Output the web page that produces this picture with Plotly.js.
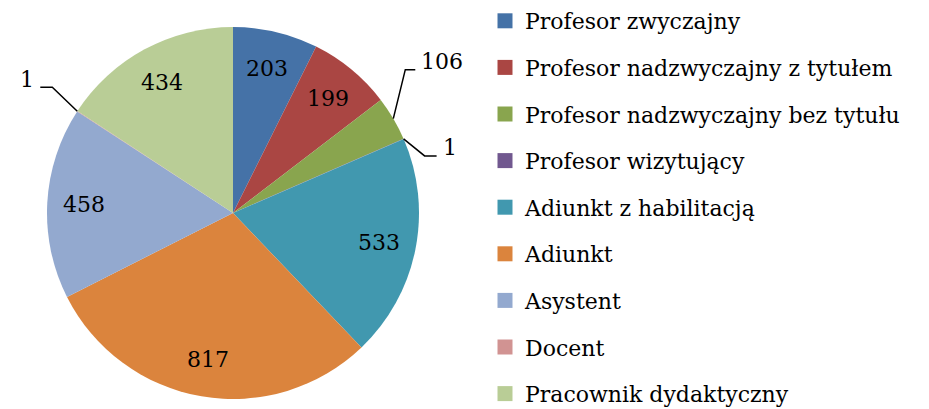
<!DOCTYPE html>
<html><head><meta charset="utf-8">
<script src="https://cdn.plot.ly/plotly-3.0.1.min.js"></script>
<style>html,body{margin:0;padding:0;background:#fff}</style>
</head><body>
<div id="chart" style="width:929px;height:409px"></div>
<script>
const categories = ["Profesor zwyczajny","Profesor nadzwyczajny z tytułem","Profesor nadzwyczajny bez tytułu","Profesor wizytujący","Adiunkt z habilitacją","Adiunkt","Asystent","Docent","Pracownik dydaktyczny"];
const values = [203,199,106,1,533,817,458,1,434];
const colors = ["#4572A7","#AA4643","#89A54E","#71588F","#4198AF","#DB843D","#93A9CF","#D19392","#B9CD96"];
const labelPlacement = ["inside","inside","outside","outside","inside","inside","inside","outside","inside"];
// leader-line styling for labels drawn outside: [elbow dx, elbow dy, end dx] in px
const leaderStyle = {2: [12, -49, 22], 3: [21, 17, 33], 7: [-25, -24, -37]};

const FONT = "DejaVu Serif, Liberation Serif, serif";
const W = 929, H = 409;
const CX = 233, CY = 213, R = 186;
const INNER = 0.8; // inside-label radius fraction

const pie = {
  type: "pie",
  labels: categories,
  values: values,
  sort: false,
  direction: "clockwise",
  rotation: 0,
  marker: {colors: colors, line: {width: 0}},
  textinfo: "none",
  showlegend: false,
  automargin: false,
  hoverinfo: "label+value",
  domain: {x: [(CX-R)/W, (CX+R)/W], y: [1-(CY+R)/H, 1-(CY-R)/H]}
};

const legendTraces = categories.map((c, i) => ({
  type: "scatter", mode: "markers", x: [null], y: [null],
  name: c, legendgroup: "g" + i,
  marker: {symbol: "square", size: 15, color: colors[i]},
  showlegend: true, hoverinfo: "skip"
}));

// data labels, positioned from the slice angles
const total = values.reduce((a, b) => a + b, 0);
const shapes = [], annotations = [];
const px = x => x / W, py = y => 1 - y / H;
let cum = 0;
values.forEach((v, i) => {
  const mid = (cum + v / 2) / total * 2 * Math.PI;
  cum += v;
  const s = Math.sin(mid), c = Math.cos(mid);
  if (labelPlacement[i] === "inside") {
    annotations.push({xref: "paper", yref: "paper",
      x: px(CX + INNER * R * s), y: py(CY - INNER * R * c),
      xanchor: "center", yanchor: "middle", showarrow: false,
      text: String(v), font: {family: FONT, size: 22, color: "#000"}});
    return;
  }
  const st = leaderStyle[i];
  const tx = CX + R * s, ty = CY - R * c;
  const ex = tx + st[0], ey = ty + st[1], fx = tx + st[2];
  shapes.push({type: "path", xref: "paper", yref: "paper",
    path: `M ${px(tx)} ${py(ty)} L ${px(ex)} ${py(ey)} L ${px(fx)} ${py(ey)}`,
    line: {color: "#000", width: 1.5}});
  const right = st[2] > 0;
  annotations.push({xref: "paper", yref: "paper", x: px(fx + (right ? 4 : -4)), y: py(ey - 8),
    xanchor: right ? "left" : "right", yanchor: "middle", showarrow: false,
    text: String(v), font: {family: FONT, size: 22, color: "#000"}});
});

const layout = {
  width: W, height: H,
  margin: {l: 0, r: 0, t: 0, b: 0},
  paper_bgcolor: "#fff", plot_bgcolor: "#fff",
  font: {family: FONT, size: 22, color: "#000"},
  xaxis: {visible: false}, yaxis: {visible: false},
  showlegend: true,
  shapes: shapes,
  annotations: annotations,
  legend: {
    x: 485/W, y: 1, xanchor: "left", yanchor: "top",
    traceorder: "grouped", tracegroupgap: 15,
    font: {family: FONT, size: 22, color: "#000"},
    itemwidth: 30, bgcolor: "rgba(0,0,0,0)"
  }
};

Plotly.newPlot("chart", [pie].concat(legendTraces), layout, {displayModeBar: false, staticPlot: true});
</script>
</body></html>
